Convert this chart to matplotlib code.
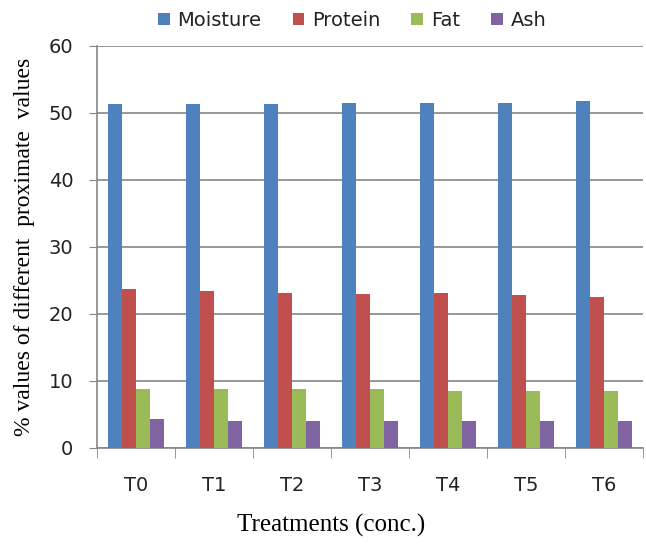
import numpy as np
import matplotlib.pyplot as plt

treatments = ['T0', 'T1', 'T2', 'T3', 'T4', 'T5', 'T6']
moisture = [51.3, 51.3, 51.3, 51.5, 51.5, 51.5, 51.8]
protein = [23.7, 23.4, 23.1, 23.0, 23.1, 22.8, 22.5]
fat = [8.75, 8.75, 8.75, 8.75, 8.5, 8.5, 8.5]
ash = [4.3, 4.0, 4.0, 4.0, 4.0, 4.0, 4.0]

series = [('Moisture', moisture, '#4F81BD'),
          ('Protein', protein, '#C0504D'),
          ('Fat', fat, '#9BBB59'),
          ('Ash', ash, '#8064A2')]

fig = plt.figure(figsize=(6.46, 5.45), dpi=100)
ax = fig.add_axes([0.150, 0.178, 0.845, 0.738])

x = np.arange(len(treatments))
w = 0.18
for i, (name, vals, col) in enumerate(series):
    ax.bar(x + (i - 1.5) * w, vals, w, color=col, label=name, zorder=3)

ax.set_ylim(0, 60)
ax.set_yticks(range(0, 61, 10))
ax.set_xlim(-0.5, len(treatments) - 0.5)
ax.set_xticks(x)
ax.set_xticklabels(treatments)
ax.set_xticks(np.arange(-0.5, len(treatments)), minor=True)
ax.tick_params(axis='x', which='major', length=0, pad=20, labelsize=14, labelcolor='#222222')
ax.tick_params(axis='x', which='minor', length=7, direction='out', color='#868686')
ax.tick_params(axis='y', length=6, direction='out', color='#868686', labelsize=14,
               pad=11, labelcolor='#222222')
ax.yaxis.grid(True, color='#868686', linewidth=1.2, zorder=0)

for s in ['top', 'right']:
    ax.spines[s].set_visible(False)
for s in ['left', 'bottom']:
    ax.spines[s].set_color('#868686')
    ax.spines[s].set_linewidth(1.2)

ax.set_xlabel('Treatments (conc.)', family='Liberation Serif', fontsize=18)
ax.xaxis.set_label_coords(0.43, -0.165)
ax.set_ylabel('% values of different  proximate  values', family='Liberation Serif',
              fontsize=17, labelpad=10)

fig.legend(loc='upper center', bbox_to_anchor=(0.545, 1.012), ncol=4, frameon=False,
           fontsize=14, handlelength=0.6, handleheight=0.6, columnspacing=1.6,
           handletextpad=0.4, labelcolor='#222222')

fig.savefig('out.png', dpi=100)
